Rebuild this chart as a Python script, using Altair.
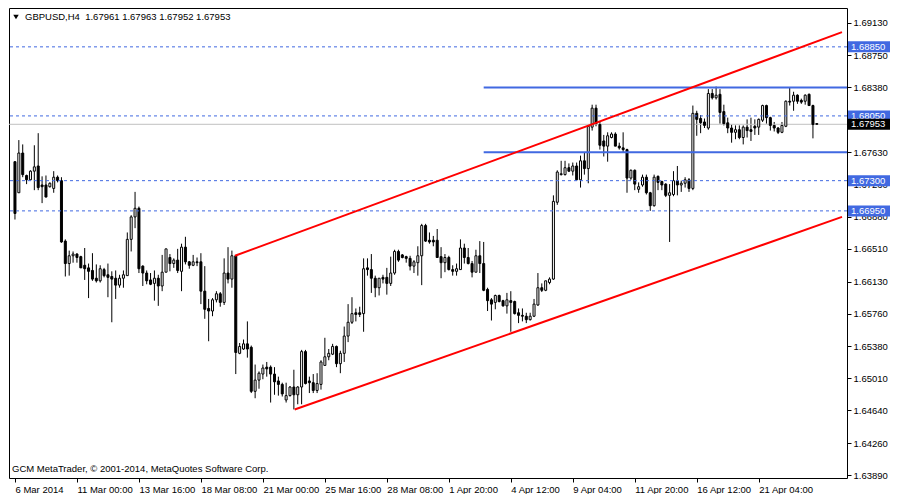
import altair as alt
import pandas as pd

# ---------------- data ----------------
header_text = "GBPUSD,H4\u00a0\u00a01.67961 1.67963 1.67952 1.67953"
footer_text = "GCM MetaTrader, \u00a9 2001-2014, MetaQuotes Software Corp."

opens = [
    1.6752, 1.6716, 1.6762, 1.6736, 1.6731, 1.6741, 1.6747, 1.6725, 1.6725, 1.6723,
    1.6721, 1.6734, 1.6730, 1.6660, 1.6634, 1.6643, 1.6645, 1.6642, 1.6632, 1.6629,
    1.6626, 1.6617, 1.6614, 1.6627, 1.6621, 1.6619, 1.6617, 1.6609, 1.6617, 1.6620,
    1.6662, 1.6688, 1.6698, 1.6631, 1.6623, 1.6615, 1.6611, 1.6617, 1.6608, 1.6624,
    1.6641, 1.6634, 1.6638, 1.6625, 1.6653, 1.6636, 1.6632, 1.6636, 1.6636, 1.6602,
    1.6582, 1.6579, 1.6592, 1.6599, 1.6589, 1.6623, 1.6616, 1.6643, 1.6530, 1.6535,
    1.6541, 1.6537, 1.6486, 1.6499, 1.6506, 1.6514, 1.6514, 1.6506, 1.6498, 1.6494,
    1.6476, 1.6481, 1.6491, 1.6482, 1.6491, 1.6532, 1.6498, 1.6496, 1.6487, 1.6494,
    1.6516, 1.6526, 1.6529, 1.6538, 1.6518, 1.6530, 1.6550, 1.6566, 1.6577, 1.6577,
    1.6576, 1.6629, 1.6627, 1.6617, 1.6606, 1.6618, 1.6618, 1.6611, 1.6623, 1.6648,
    1.6644, 1.6642, 1.6640, 1.6631, 1.6635, 1.6643, 1.6678, 1.6661, 1.6661, 1.6661,
    1.6642, 1.6635, 1.6641, 1.6627, 1.6625, 1.6627, 1.6652, 1.6641, 1.6634, 1.6624,
    1.6643, 1.6634, 1.6604, 1.6592, 1.6589, 1.6597, 1.6591, 1.6585, 1.6591, 1.6590,
    1.6577, 1.6574, 1.6573, 1.6569, 1.6573, 1.6586, 1.6606, 1.6603, 1.6612, 1.6616,
    1.6705, 1.6737, 1.6737, 1.6745, 1.6741, 1.6747, 1.6731, 1.6753, 1.6744, 1.6792,
    1.6814, 1.6795, 1.6776, 1.6770, 1.6780, 1.6784, 1.6770, 1.6768, 1.6766, 1.6733,
    1.6742, 1.6720, 1.6725, 1.6734, 1.6716, 1.6701, 1.6735, 1.6729, 1.6726, 1.6713,
    1.6714, 1.6730, 1.6725, 1.6727, 1.6731, 1.6721, 1.6808, 1.6802, 1.6798, 1.6791,
    1.6831, 1.6826, 1.6830, 1.6810, 1.6797, 1.6791, 1.6786, 1.6789, 1.6780, 1.6792,
    1.6789, 1.6793, 1.6792, 1.6800, 1.6817, 1.6803, 1.6794, 1.6791, 1.6786, 1.6793,
    1.6822, 1.6822, 1.6829, 1.6823, 1.6822, 1.6830, 1.6817, 1.67961,
]
highs = [
    1.6752, 1.6777, 1.6772, 1.6737, 1.6742, 1.6771, 1.6785, 1.6735, 1.6736, 1.6728,
    1.6741, 1.6736, 1.6734, 1.6662, 1.6649, 1.6648, 1.6646, 1.6643, 1.6652, 1.6634,
    1.6646, 1.6633, 1.6632, 1.6629, 1.6634, 1.6625, 1.6626, 1.6621, 1.6626, 1.6670,
    1.6690, 1.6717, 1.6700, 1.6632, 1.6626, 1.6623, 1.6626, 1.6621, 1.6644, 1.6651,
    1.6645, 1.6640, 1.6651, 1.6657, 1.6665, 1.6637, 1.6644, 1.6641, 1.6646, 1.6631,
    1.6593, 1.6594, 1.6602, 1.6601, 1.6640, 1.6653, 1.6649, 1.6643, 1.6542, 1.6546,
    1.6567, 1.6539, 1.6517, 1.6509, 1.6517, 1.6520, 1.6516, 1.6514, 1.6503, 1.6496,
    1.6496, 1.6492, 1.6511, 1.6492, 1.6534, 1.6534, 1.6503, 1.6506, 1.6507, 1.6522,
    1.6548, 1.6535, 1.6541, 1.6539, 1.6533, 1.6561, 1.6587, 1.6595, 1.6582, 1.6584,
    1.6640, 1.6640, 1.6645, 1.6620, 1.6617, 1.6621, 1.6629, 1.6642, 1.6650, 1.6650,
    1.6645, 1.6643, 1.6643, 1.6638, 1.6654, 1.6680, 1.6680, 1.6670, 1.6666, 1.6674,
    1.6653, 1.6645, 1.6643, 1.6632, 1.6634, 1.6662, 1.6657, 1.6652, 1.6637, 1.6650,
    1.6660, 1.6659, 1.6606, 1.6594, 1.6598, 1.6598, 1.6592, 1.6600, 1.6602, 1.6591,
    1.6582, 1.6582, 1.6577, 1.6577, 1.6593, 1.6623, 1.6611, 1.6614, 1.6618, 1.6713,
    1.6742, 1.6753, 1.6753, 1.6750, 1.6751, 1.6751, 1.6759, 1.6763, 1.6794, 1.6818,
    1.6818, 1.6798, 1.6783, 1.6786, 1.6786, 1.6786, 1.6774, 1.6786, 1.6767, 1.6743,
    1.6743, 1.6728, 1.6737, 1.6737, 1.6717, 1.6737, 1.6736, 1.6730, 1.6727, 1.6726,
    1.6741, 1.6747, 1.6730, 1.6734, 1.6733, 1.6817, 1.6811, 1.6806, 1.6802, 1.6836,
    1.6836, 1.6839, 1.6836, 1.6818, 1.6803, 1.6795, 1.6794, 1.6794, 1.6794, 1.6801,
    1.6803, 1.6801, 1.6802, 1.6818, 1.6818, 1.6804, 1.6798, 1.6792, 1.6798, 1.6823,
    1.6838, 1.6833, 1.6830, 1.6825, 1.6830, 1.6831, 1.6818, 1.67963,
]
lows = [
    1.6685, 1.6716, 1.6734, 1.6726, 1.6731, 1.6719, 1.6719, 1.6704, 1.6711, 1.6722,
    1.6716, 1.6728, 1.6658, 1.6619, 1.6620, 1.6635, 1.6635, 1.6629, 1.6615, 1.6594,
    1.6614, 1.6612, 1.6612, 1.6618, 1.6595, 1.6566, 1.6593, 1.6606, 1.6606, 1.6620,
    1.6648, 1.6675, 1.6623, 1.6608, 1.6610, 1.6609, 1.6591, 1.6585, 1.6602, 1.6624,
    1.6625, 1.6629, 1.6623, 1.6602, 1.6633, 1.6628, 1.6631, 1.6631, 1.6587, 1.6570,
    1.6544, 1.6573, 1.6589, 1.6584, 1.6586, 1.6611, 1.6606, 1.6506, 1.6529, 1.6534,
    1.6525, 1.6484, 1.6478, 1.6489, 1.6500, 1.6503, 1.6473, 1.6482, 1.6481, 1.6480,
    1.6473, 1.6480, 1.6465, 1.6471, 1.6471, 1.6494, 1.6484, 1.6484, 1.6484, 1.6488,
    1.6516, 1.6522, 1.6528, 1.6514, 1.6507, 1.6520, 1.6543, 1.6564, 1.6567, 1.6572,
    1.6555, 1.6620, 1.6600, 1.6595, 1.6597, 1.6611, 1.6598, 1.6608, 1.6621, 1.6636,
    1.6640, 1.6635, 1.6626, 1.6623, 1.6620, 1.6609, 1.6659, 1.6657, 1.6654, 1.6641,
    1.6617, 1.6624, 1.6626, 1.6620, 1.6620, 1.6627, 1.6634, 1.6633, 1.6618, 1.6624,
    1.6623, 1.6602, 1.6579, 1.6568, 1.6581, 1.6589, 1.6584, 1.6576, 1.6555, 1.6575,
    1.6565, 1.6567, 1.6565, 1.6568, 1.6572, 1.6585, 1.6601, 1.6602, 1.6610, 1.6615,
    1.6702, 1.6736, 1.6736, 1.6740, 1.6736, 1.6731, 1.6722, 1.6737, 1.6727, 1.6788,
    1.6793, 1.6766, 1.6758, 1.6752, 1.6779, 1.6770, 1.6766, 1.6763, 1.6716, 1.6731,
    1.6719, 1.6716, 1.6723, 1.6714, 1.6695, 1.6700, 1.6719, 1.6719, 1.6711, 1.6659,
    1.6712, 1.6713, 1.6717, 1.6722, 1.6717, 1.6719, 1.6782, 1.6785, 1.6791, 1.6789,
    1.6824, 1.6824, 1.6796, 1.6794, 1.6785, 1.6774, 1.6778, 1.6778, 1.6772, 1.6780,
    1.6776, 1.6783, 1.6783, 1.6798, 1.6796, 1.6788, 1.6787, 1.6784, 1.6785, 1.6792,
    1.6817, 1.6811, 1.6819, 1.6819, 1.6818, 1.6817, 1.6779, 1.67952,
]
closes = [
    1.6692, 1.6762, 1.6737, 1.6731, 1.6741, 1.6746, 1.6722, 1.6723, 1.6711, 1.6727,
    1.6734, 1.6730, 1.6659, 1.6634, 1.6643, 1.6645, 1.6641, 1.6629, 1.6628, 1.6625,
    1.6616, 1.6614, 1.6628, 1.6620, 1.6618, 1.6616, 1.6609, 1.6617, 1.6621, 1.6662,
    1.6688, 1.6698, 1.6628, 1.6623, 1.6614, 1.6610, 1.6617, 1.6608, 1.6624, 1.6651,
    1.6634, 1.6638, 1.6626, 1.6653, 1.6636, 1.6632, 1.6636, 1.6635, 1.6602, 1.6581,
    1.6579, 1.6592, 1.6599, 1.6589, 1.6623, 1.6616, 1.6643, 1.6531, 1.6538, 1.6541,
    1.6535, 1.6486, 1.6499, 1.6507, 1.6513, 1.6512, 1.6506, 1.6497, 1.6494, 1.6483,
    1.6481, 1.6491, 1.6482, 1.6491, 1.6532, 1.6495, 1.6496, 1.6487, 1.6495, 1.6520,
    1.6526, 1.6530, 1.6538, 1.6518, 1.6530, 1.6550, 1.6566, 1.6576, 1.6575, 1.6575,
    1.6628, 1.6627, 1.6617, 1.6606, 1.6617, 1.6616, 1.6611, 1.6623, 1.6648, 1.6638,
    1.6641, 1.6640, 1.6631, 1.6636, 1.6643, 1.6678, 1.6660, 1.6659, 1.6659, 1.6641,
    1.6635, 1.6641, 1.6627, 1.6625, 1.6628, 1.6652, 1.6641, 1.6634, 1.6624, 1.6643,
    1.6634, 1.6603, 1.6591, 1.6587, 1.6597, 1.6590, 1.6585, 1.6592, 1.6589, 1.6576,
    1.6574, 1.6573, 1.6569, 1.6573, 1.6587, 1.6606, 1.6603, 1.6614, 1.6616, 1.6706,
    1.6740, 1.6738, 1.6745, 1.6741, 1.6747, 1.6731, 1.6753, 1.6744, 1.6793, 1.6814,
    1.6796, 1.6771, 1.6770, 1.6782, 1.6784, 1.6770, 1.6768, 1.6766, 1.6733, 1.6742,
    1.6726, 1.6723, 1.6734, 1.6716, 1.6701, 1.6734, 1.6728, 1.6725, 1.6713, 1.6716,
    1.6730, 1.6725, 1.6727, 1.6731, 1.6721, 1.6808, 1.6801, 1.6797, 1.6794, 1.6831,
    1.6826, 1.6829, 1.6809, 1.6796, 1.6791, 1.6786, 1.6789, 1.6780, 1.6792, 1.6788,
    1.6787, 1.6791, 1.6801, 1.6817, 1.6803, 1.6794, 1.6791, 1.6786, 1.6794, 1.6822,
    1.6821, 1.6829, 1.6822, 1.6821, 1.6829, 1.6817, 1.6795, 1.67953,
]

time_labels = ["6 Mar 2014", "11 Mar 00:00", "13 Mar 16:00", "18 Mar 08:00",
               "21 Mar 00:00", "25 Mar 16:00", "28 Mar 08:00", "1 Apr 20:00",
               "4 Apr 12:00", "9 Apr 04:00", "11 Apr 20:00", "16 Apr 12:00",
               "21 Apr 04:00"]
bars_per_label = 16
price_ticks = [1.69130, 1.68750, 1.68380, 1.67630, 1.67260, 1.66880,
               1.66510, 1.66130, 1.65760, 1.65380, 1.65010, 1.64640, 1.64260,
               1.63890]
dashed_levels = [1.68850, 1.68050, 1.67300, 1.66950]
solid_levels = [1.68380, 1.67630]
solid_start_bar = 121
bid_price = 1.67953
# trend channel: (bar, price) -> (bar, price)
channel_start_bar = [56.8, 72.2]
channel_start_price = [1.6643, 1.6465]
channel_end_bar = [213.5, 213.5]
channel_end_price = [1.6902, 1.6688]

x_domain = [-0.25, 213.5]
y_domain = [1.63856, 1.69300]

# ---------------- layout / style ----------------
W, H = 838, 470
FONT = "Liberation Sans"
FS = 9.5
BLUE = "#4169E1"

n = len(opens)
candles = pd.DataFrame({
    "i": list(range(n)), "o": opens, "h": highs, "l": lows, "c": closes,
})
candles["fillc"] = ["white" if c >= o else "black" for o, c in zip(opens, closes)]

xs = alt.Scale(domain=x_domain, nice=False, zero=False)
ys = alt.Scale(domain=y_domain, nice=False, zero=False)

label_expr = "[" + ",".join("'%s'" % t for t in time_labels) + "][round(datum.value / %d)]" % bars_per_label
x_axis = alt.Axis(values=[k * bars_per_label for k in range(len(time_labels))],
                  labelExpr=label_expr, labelAlign="left", labelPadding=2, tickSize=4,
                  domain=False, grid=False, title=None, labelFlush=False,
                  labelOverlap=False, labelBound=False)
y_axis = alt.Axis(orient="right", values=price_ticks, format=".5f", tickSize=4,
                  labelPadding=2, domain=False, grid=False, title=None,
                  labelOverlap=False, labelFlush=False, labelBound=False)


def X(field):
    return alt.X(field, type="quantitative", scale=xs, axis=x_axis)


def Y(field):
    return alt.Y(field, type="quantitative", scale=ys, axis=y_axis)


base = alt.Chart(candles)

wicks = base.mark_rule(color="black", strokeWidth=1).encode(
    x=X("i"), y=Y("l"), y2="h:Q",
)
bodies = base.mark_bar(size=2, stroke="black", strokeWidth=1).encode(
    x=X("i"), y=Y("o"), y2="c:Q",
    fill=alt.Fill("fillc:N", scale=None),
)

bid_df = pd.DataFrame({"p": [bid_price], "t": ["%.5f" % bid_price]})
bid_line = alt.Chart(bid_df).mark_rule(color="#C0C0C0", strokeWidth=1).encode(y=Y("p"))

dash_df = pd.DataFrame({"p": dashed_levels, "t": ["%.5f" % v for v in dashed_levels]})
dash_lines = alt.Chart(dash_df).mark_rule(color=BLUE, strokeWidth=1, strokeDash=[3, 3]).encode(
    y=Y("p"))

solid_df = pd.DataFrame({"p": solid_levels, "b": [solid_start_bar] * len(solid_levels)})
solid_lines = alt.Chart(solid_df).mark_rule(color=BLUE, strokeWidth=2).encode(
    x=X("b"), x2=alt.value(W), y=Y("p"))

chan_df = pd.DataFrame({"b1": channel_start_bar, "p1": channel_start_price,
                        "b2": channel_end_bar, "p2": channel_end_price})
channel = alt.Chart(chan_df).mark_rule(color="#FF0000", strokeWidth=2).encode(
    x=X("b1"), x2="b2:Q", y=Y("p1"), y2="p2:Q")

box_path = "M-1,-0.262L1,-0.262L1,0.262L-1,0.262Z"
dash_boxes = alt.Chart(dash_df).mark_point(shape=box_path, filled=True, size=1764,
                                           color=BLUE, opacity=1).encode(
    x=alt.value(W + 22), y=Y("p"))
dash_texts = alt.Chart(dash_df).mark_text(align="left", baseline="middle", color="white",
                                          font=FONT, fontSize=FS).encode(
    x=alt.value(W + 4), y=Y("p"), text="t:N")
bid_box = alt.Chart(bid_df).mark_point(shape=box_path, filled=True, size=1764,
                                       color="black", opacity=1).encode(
    x=alt.value(W + 22), y=Y("p"))
bid_text = alt.Chart(bid_df).mark_text(align="left", baseline="middle", color="white",
                                       font=FONT, fontSize=FS).encode(
    x=alt.value(W + 4), y=Y("p"), text="t:N")

one = pd.DataFrame({"t": [header_text], "f": [footer_text]})
header_tri = alt.Chart(one).mark_point(shape="triangle-down", filled=True, size=30,
                                       color="black", opacity=1).encode(
    x=alt.value(7), y=alt.value(9))
header = alt.Chart(one).mark_text(align="left", baseline="middle", font=FONT,
                                  fontSize=FS, color="black").encode(
    x=alt.value(16), y=alt.value(9), text="t:N")
footer = alt.Chart(one).mark_text(align="left", baseline="middle", font=FONT,
                                  fontSize=FS, color="black").encode(
    x=alt.value(3), y=alt.value(H - 9), text="f:N")

chart = alt.layer(
    wicks, bid_line, bodies, dash_lines, solid_lines, channel,
    dash_boxes, dash_texts, bid_box, bid_text, header_tri, header, footer,
).properties(
    width=W, height=H, background="white",
    padding={"left": 0, "top": 0, "right": 0, "bottom": 0},
).configure_view(
    stroke="black", strokeWidth=1,
).configure_axis(
    labelFont=FONT, labelFontSize=FS, labelColor="black", tickColor="black",
    tickWidth=1,
)

chart.save("out.html", embed_options={"renderer": "svg", "actions": False})
